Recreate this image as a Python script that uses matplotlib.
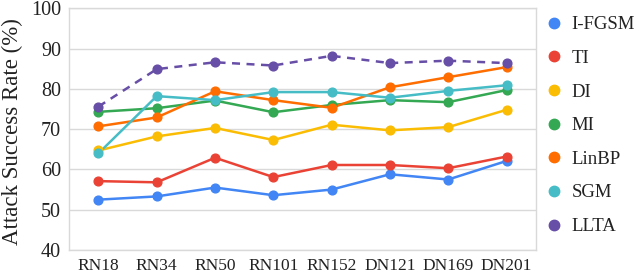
import numpy as np
import matplotlib.pyplot as plt

# ----- data -----
models = ['RN18', 'RN34', 'RN50', 'RN101', 'RN152', 'DN121', 'DN169', 'DN201']
ifgsm = [52.5, 53.3, 55.5, 53.6, 55.0, 58.8, 57.5, 62.1]
ti = [57.1, 56.8, 62.9, 58.1, 61.1, 61.1, 60.3, 63.2]
di = [64.7, 68.2, 70.3, 67.3, 71.1, 69.7, 70.5, 74.8]
mi = [74.3, 75.2, 77.1, 74.2, 76.0, 77.2, 76.7, 79.7]
linbp = [70.7, 72.9, 79.4, 77.2, 75.3, 80.4, 82.9, 85.4]
sgm = [64.0, 78.2, 77.2, 79.2, 79.2, 77.8, 79.5, 80.9]
llta = [75.6, 84.9, 86.6, 85.8, 88.2, 86.4, 87.0, 86.4]

series = [
    ('I-FGSM', ifgsm, '#4285F4', '-'),
    ('TI', ti, '#EA4335', '-'),
    ('DI', di, '#FBBC04', '-'),
    ('MI', mi, '#34A853', '-'),
    ('LinBP', linbp, '#FF6D01', '-'),
    ('SGM', sgm, '#46BDC6', '-'),
    ('LLTA', llta, '#674EA7', (0, (3.2, 2.6))),
]

plt.rcParams['font.family'] = ['Liberation Serif', 'DejaVu Serif']

fig = plt.figure(figsize=(6.4, 2.74), dpi=100)
ax = fig.add_axes([0.1083, 0.0876, 0.7287, 0.8821])

x = np.arange(len(models))
handles = []
for name, vals, col, ls in series:
    ax.plot(x, vals, color=col, lw=1.8, ls=ls, zorder=3)
    ax.plot(x, vals, color=col, lw=0, marker='o', ms=6.3, zorder=4)
    h, = ax.plot([], [], color=col, lw=0, marker='o', ms=7.5)
    handles.append((h, name))

ax.set_xlim(-0.5, len(models) - 0.5)
ax.set_ylim(40, 100)
ax.set_yticks(range(40, 101, 10))
ax.set_xticks(x)
ax.set_xticklabels(models, fontsize=12.5, color='#222222')
ax.tick_params(axis='y', labelsize=14.5, colors='#222222', length=0, pad=6)
ax.tick_params(axis='x', length=0, pad=6)
ax.yaxis.grid(True, color='#d9d9d9', lw=1)
ax.set_axisbelow(True)
for s in ax.spines.values():
    s.set_color('#d9d9d9')
    s.set_linewidth(1)

fig.text(0.019, 0.52, 'Attack Success Rate (%)', rotation=90, fontsize=16.5,
         ha='center', va='center', color='#222222')

fig.legend([h for h, _ in handles], [n for _, n in handles],
           loc='upper left', bbox_to_anchor=(0.84, 0.975), frameon=False,
           fontsize=13.5, handlelength=0.8, handletextpad=0.5,
           labelspacing=0.88, borderpad=0, labelcolor='#222222')

fig.savefig('out.png', dpi=100)
